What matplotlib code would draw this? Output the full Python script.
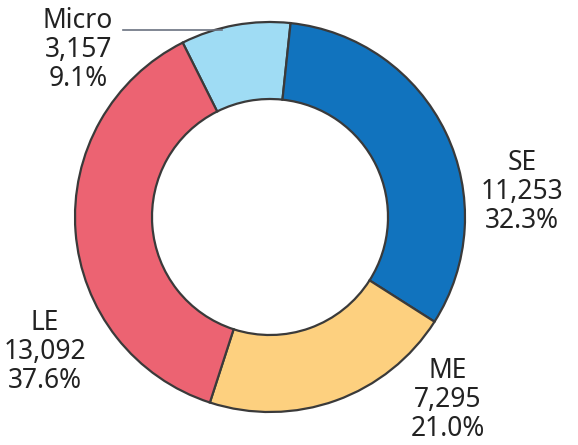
import matplotlib

matplotlib.use("Agg")
import matplotlib.pyplot as plt

# Enterprise size classes
labels = ["Micro", "SE", "ME", "LE"]
counts = [3157, 11253, 7295, 13092]
shares = ["9.1%", "32.3%", "21.0%", "37.6%"]
colors = ["#9fdcf4", "#1173be", "#fdd07f", "#ec6372"]

# label anchor points in pixel space (x, y from top)
label_pos = [(78, 50), (522, 192), (448, 400), (45, 352)]

W, H = 578, 445
fig = plt.figure(figsize=(W / 100, H / 100), dpi=100)
ax = fig.add_axes([0, 0, 1, 1])

cx, cy, r = 270, H - 217, 195
ax.pie(
    counts,
    colors=colors,
    radius=r,
    center=(cx, cy),
    startangle=116.6,
    counterclock=False,
    wedgeprops=dict(width=77, edgecolor="#3a3a3a", linewidth=1.6),
)

for name, n, pct, (x, y) in zip(labels, counts, shares, label_pos):
    ax.text(
        x, H - y, f"{name}\n{n:,}\n{pct}",
        ha="center", va="center", fontsize=19, color="#222222",
        family="Noto Sans", linespacing=1.05,
    )

# leader line for the small slice
ax.plot([123, 222], [H - 30, H - 30], color="#6b7280", lw=1.2)

ax.set_xlim(0, W)
ax.set_ylim(0, H)
ax.set_aspect("equal")
ax.axis("off")

fig.savefig("out.png", dpi=100, facecolor="white")
